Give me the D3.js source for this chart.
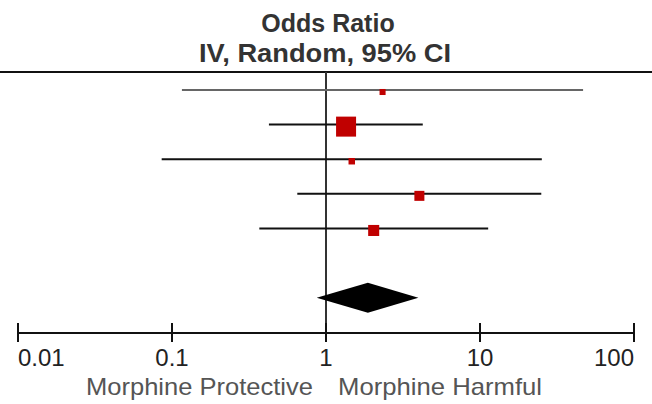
<!DOCTYPE html>
<html>
<head>
<meta charset="utf-8">
<script src="https://cdn.jsdelivr.net/npm/d3@7"></script>
<style>
  html, body { margin: 0; padding: 0; background: #fff; }
  svg { display: block; font-family: "Liberation Sans", Arial, sans-serif; }
</style>
</head>
<body>
<div id="chart"></div>
<script>
// study estimates (odds ratio, 95% CI)
const studyOR = [2.33, 1.35, 1.47, 4.04, 2.04];
const studyLower = [0.116, 0.426, 0.0857, 0.651, 0.369];
const studyUpper = [46.7, 4.25, 25.2, 25.0, 11.3];
const studyWeight = [5.2, 57.1, 6.0, 14.3, 17.4];
const studyColor = ['#666666', '#111111', '#111111', '#111111', '#111111'];

// pooled random effects estimate
const pooled = { or: 1.87, lower: 0.87, upper: 3.98 };

const tickValues = [0.01, 0.1, 1, 10, 100];
const tickLabels = ['0.01', '0.1', '1', '10', '100'];

const width = 652, height = 404;

const svg = d3.select('#chart')
    .append('svg')
    .attr('width', width)
    .attr('height', height);

const x = d3.scaleLog()
    .domain([0.01, 100])
    .range([18, 634]);

// rows 0-4 are studies, row 6 is the pooled diamond
const y = d3.scalePoint()
    .domain(d3.range(7))
    .range([90, 297.7]);

const side = d3.scaleSqrt()
    .domain([0, d3.max(studyWeight)])
    .range([0, 20]);

// Titles
svg.append('text')
    .attr('x', 328)
    .attr('y', 31.5)
    .attr('text-anchor', 'middle')
    .attr('font-size', '25px')
    .attr('font-weight', 'bold')
    .attr('fill', '#333')
    .text('Odds Ratio');

svg.append('text')
    .attr('x', 325)
    .attr('y', 62)
    .attr('text-anchor', 'middle')
    .attr('font-size', '25px')
    .attr('font-weight', 'bold')
    .attr('fill', '#333')
    .attr('textLength', 252)
    .attr('lengthAdjust', 'spacingAndGlyphs')
    .text('IV, Random, 95% CI');

// header rule
svg.append('line')
    .attr('x1', 0).attr('x2', width)
    .attr('y1', 72).attr('y2', 72)
    .attr('stroke', '#111')
    .attr('stroke-width', 2);

// line of no effect
svg.append('line')
    .attr('x1', x(1)).attr('x2', x(1))
    .attr('y1', 72).attr('y2', 333)
    .attr('stroke', '#333')
    .attr('stroke-width', 2);

// CI lines
const rows = studyOR.map((d, i) => ({ i, or: d, lo: studyLower[i], hi: studyUpper[i], w: studyWeight[i] }));

svg.selectAll('.ci')
    .data(rows)
    .enter()
    .append('line')
    .attr('class', 'ci')
    .attr('x1', d => x(d.lo))
    .attr('x2', d => x(d.hi))
    .attr('y1', d => y(d.i))
    .attr('y2', d => y(d.i))
    .attr('stroke', d => studyColor[d.i])
    .attr('stroke-width', 2);

// weight squares (drawn a touch below the line, as in the original)
svg.selectAll('.box')
    .data(rows)
    .enter()
    .append('rect')
    .attr('class', 'box')
    .attr('x', d => x(d.or) - side(d.w) / 2)
    .attr('y', d => y(d.i) + 2 - side(d.w) / 2)
    .attr('width', d => side(d.w))
    .attr('height', d => side(d.w))
    .attr('fill', '#c00000');

// pooled diamond
const py = y(6);
svg.append('path')
    .attr('d', `M${x(pooled.lower)},${py} L${x(pooled.or)},${py - 15} L${x(pooled.upper)},${py} L${x(pooled.or)},${py + 15} Z`)
    .attr('fill', '#000');

// x axis
const axisY = 333;
const axis = svg.append('g')
    .attr('transform', `translate(0,${axisY})`);

axis.append('line')
    .attr('x1', x(0.01)).attr('x2', x(100))
    .attr('stroke', '#111')
    .attr('stroke-width', 2);

axis.selectAll('.tick')
    .data(tickValues)
    .enter()
    .append('line')
    .attr('class', 'tick')
    .attr('x1', d => x(d)).attr('x2', d => x(d))
    .attr('y1', -10).attr('y2', 9)
    .attr('stroke', '#111')
    .attr('stroke-width', 2);

axis.selectAll('.tick-label')
    .data(tickValues)
    .enter()
    .append('text')
    .attr('class', 'tick-label')
    .attr('x', d => x(d))
    .attr('y', 33)
    .attr('text-anchor', (d, i) => i === 0 ? 'start' : (i === tickValues.length - 1 ? 'end' : 'middle'))
    .attr('font-size', '24px')
    .attr('fill', '#222')
    .text((d, i) => tickLabels[i]);

// direction labels
svg.append('text')
    .attr('x', x(1) - 13)
    .attr('y', 395)
    .attr('text-anchor', 'end')
    .attr('font-size', '24px')
    .attr('fill', '#555')
    .attr('textLength', 227)
    .attr('lengthAdjust', 'spacingAndGlyphs')
    .text('Morphine Protective');

svg.append('text')
    .attr('x', x(1) + 12)
    .attr('y', 395)
    .attr('text-anchor', 'start')
    .attr('font-size', '24px')
    .attr('fill', '#555')
    .attr('textLength', 204)
    .attr('lengthAdjust', 'spacingAndGlyphs')
    .text('Morphine Harmful');
</script>
</body>
</html>
